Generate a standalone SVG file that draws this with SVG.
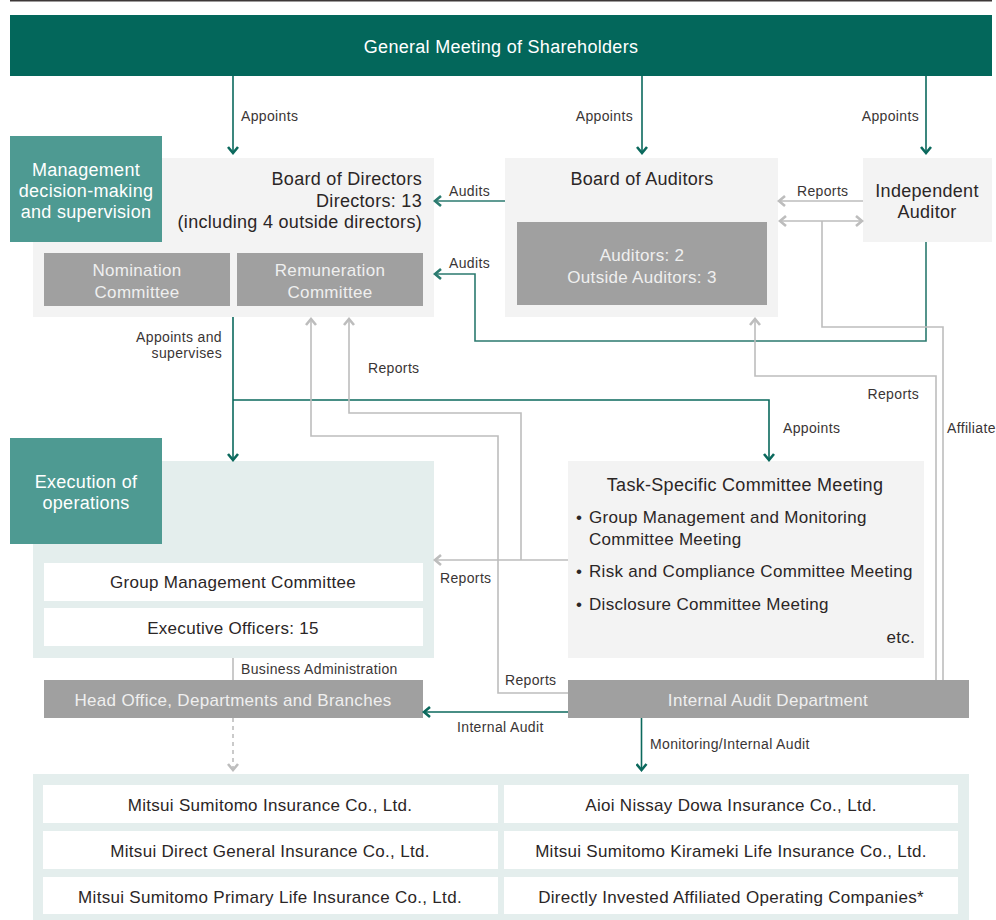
<svg xmlns="http://www.w3.org/2000/svg" width="996" height="920" viewBox="0 0 996 920">
<defs>
<style>
text{font-family:"Liberation Sans",Arial,sans-serif;}
.n{font-size:17px;fill:#2b2626;letter-spacing:0.3px;}
.t{font-size:18px;fill:#2b2626;letter-spacing:0.3px;}
.w{font-size:18px;fill:#ffffff;letter-spacing:0.3px;}
.g{font-size:17px;fill:#efefef;letter-spacing:0.3px;}
.l{font-size:14px;fill:#3a3535;letter-spacing:0.35px;}
.c{text-anchor:middle;}
.e{text-anchor:end;}
.gl{fill:none;stroke:#0b695d;stroke-width:1.6;}
.al{fill:none;stroke:#2b7a6f;stroke-width:1.6;}
.yl{fill:none;stroke:#bdbdbd;stroke-width:1.6;}
</style>
<marker id="ag" viewBox="0 0 12 12" refX="10" refY="6" markerWidth="12" markerHeight="12" markerUnits="userSpaceOnUse" orient="auto">
<path d="M4,1 L10,6 L4,11" fill="none" stroke="#0b695d" stroke-width="2.6"/>
</marker>
<marker id="aa" viewBox="0 0 12 12" refX="10" refY="6" markerWidth="12" markerHeight="12" markerUnits="userSpaceOnUse" orient="auto">
<path d="M4,1 L10,6 L4,11" fill="none" stroke="#2b7a6f" stroke-width="2.6"/>
</marker>
<marker id="ay" viewBox="0 0 12 12" refX="10" refY="6" markerWidth="12" markerHeight="12" markerUnits="userSpaceOnUse" orient="auto-start-reverse">
<path d="M4,1 L10,6 L4,11" fill="none" stroke="#bdbdbd" stroke-width="2.6"/>
</marker>
</defs>
<rect width="996" height="920" fill="#ffffff"/>
<line x1="10" y1="0.75" x2="992" y2="0.75" stroke="#3d3838" stroke-width="1.5"/>

<g id="shareholders">
<rect x="10" y="15" width="982" height="61" fill="#03675b"/>
<text class="w c" x="501" y="53">General Meeting of Shareholders</text>
</g>

<g id="board-of-directors">
<rect x="33" y="158" width="401" height="159" fill="#f3f3f3"/>
<text class="t e" x="422" y="185">Board of Directors</text>
<text class="t e" x="422" y="207">Directors: 13</text>
<text class="t e" x="422" y="228">(including 4 outside directors)</text>
</g>
<g id="management-label">
<rect x="10" y="136" width="152" height="106" fill="#4e9a92"/>
<text class="w c" x="86" y="176">Management</text>
<text class="w c" x="86" y="197">decision-making</text>
<text class="w c" x="86" y="218">and supervision</text>
</g>
<g id="nomination">
<rect x="44" y="253" width="186" height="53" fill="#a0a0a0"/>
<text class="g c" x="137" y="276">Nomination</text>
<text class="g c" x="137" y="298">Committee</text>
</g>
<g id="remuneration">
<rect x="237" y="253" width="186" height="53" fill="#a0a0a0"/>
<text class="g c" x="330" y="276">Remuneration</text>
<text class="g c" x="330" y="298">Committee</text>
</g>

<g id="board-of-auditors">
<rect x="505" y="158" width="273" height="159" fill="#f3f3f3"/>
<text class="t c" x="642" y="185">Board of Auditors</text>
<rect x="517" y="222" width="250" height="83" fill="#a0a0a0"/>
<text class="g c" x="642" y="261">Auditors: 2</text>
<text class="g c" x="642" y="283">Outside Auditors: 3</text>
</g>

<g id="independent-auditor">
<rect x="863" y="158" width="129" height="84" fill="#f3f3f3"/>
<text class="t c" x="927" y="197">Independent</text>
<text class="t c" x="927" y="218">Auditor</text>
</g>

<g id="execution">
<rect x="33" y="461" width="401" height="197" fill="#e4eeed"/>
<rect x="10" y="438" width="152" height="106" fill="#4e9a92"/>
<text class="w c" x="86" y="488">Execution of</text>
<text class="w c" x="86" y="509">operations</text>
</g>
<g id="group-management-committee">
<rect x="44" y="563" width="379" height="38" fill="#ffffff"/>
<text class="n c" x="233" y="588">Group Management Committee</text>
</g>
<g id="executive-officers">
<rect x="44" y="608" width="379" height="38" fill="#ffffff"/>
<text class="n c" x="233" y="634">Executive Officers: 15</text>
</g>

<g id="task-specific">
<rect x="568" y="461" width="356" height="197" fill="#f3f3f3"/>
<text class="t c" x="745" y="491">Task-Specific Committee Meeting</text>
<text class="n" x="576" y="523">•</text>
<text class="n" x="589" y="523">Group Management and Monitoring</text>
<text class="n" x="589" y="545">Committee Meeting</text>
<text class="n" x="576" y="577">•</text>
<text class="n" x="589" y="577">Risk and Compliance Committee Meeting</text>
<text class="n" x="576" y="610">•</text>
<text class="n" x="589" y="610">Disclosure Committee Meeting</text>
<text class="n e" x="915" y="643">etc.</text>
</g>

<g id="head-office">
<rect x="44" y="680" width="379" height="38" fill="#a0a0a0"/>
<text class="g c" x="233" y="706">Head Office, Departments and Branches</text>
</g>
<g id="internal-audit">
<rect x="568" y="680" width="401" height="38" fill="#a0a0a0"/>
<text class="g c" x="768" y="706">Internal Audit Department</text>
</g>

<g id="group-companies">
<rect x="33" y="774" width="936" height="146" fill="#e4eeed"/>
<rect x="43" y="785" width="455" height="38" fill="#ffffff"/>
<rect x="504" y="785" width="454" height="38" fill="#ffffff"/>
<rect x="43" y="831" width="455" height="38" fill="#ffffff"/>
<rect x="504" y="831" width="454" height="38" fill="#ffffff"/>
<rect x="43" y="877" width="455" height="37" fill="#ffffff"/>
<rect x="504" y="877" width="454" height="37" fill="#ffffff"/>
<text class="n c" x="270" y="811">Mitsui Sumitomo Insurance Co., Ltd.</text>
<text class="n c" x="731" y="811">Aioi Nissay Dowa Insurance Co., Ltd.</text>
<text class="n c" x="270" y="857">Mitsui Direct General Insurance Co., Ltd.</text>
<text class="n c" x="731" y="857">Mitsui Sumitomo Kirameki Life Insurance Co., Ltd.</text>
<text class="n c" x="270" y="903">Mitsui Sumitomo Primary Life Insurance Co., Ltd.</text>
<text class="n c" x="731" y="903">Directly Invested Affiliated Operating Companies*</text>
</g>

<g id="connectors">
<path class="gl" d="M233,76 V153" marker-end="url(#ag)"/>
<path class="gl" d="M642,76 V153" marker-end="url(#ag)"/>
<path class="gl" d="M926,76 V153" marker-end="url(#ag)"/>
<path class="al" d="M505,201 H435" marker-end="url(#aa)"/>
<path class="al" d="M926,242 V341 H475 V274 H435" marker-end="url(#aa)"/>
<path class="yl" d="M863,201 H779" marker-end="url(#ay)"/>
<path class="yl" d="M780,221 H862" marker-start="url(#ay)" marker-end="url(#ay)"/>
<path class="yl" d="M822,221 V327 H943 V680"/>
<path class="yl" d="M936,680 V376 H755 V319" marker-end="url(#ay)"/>
<path class="gl" d="M233,317 V460" marker-end="url(#ag)"/>
<path class="gl" d="M233,400 H769 V460" marker-end="url(#ag)"/>
<path class="yl" d="M568,560 H435" marker-end="url(#ay)"/>
<path class="yl" d="M521,560 V413 H349 V319" marker-end="url(#ay)"/>
<path class="yl" d="M568,693 H498 V436 H311 V319" marker-end="url(#ay)"/>
<path class="yl" d="M233,658 V680"/>
<path class="yl" d="M233,718 V770" stroke-dasharray="4 4" marker-end="url(#ay)"/>
<path class="gl" d="M568,712 H424" marker-end="url(#ag)"/>
<path class="gl" d="M641.5,718 V770" marker-end="url(#ag)"/>
</g>

<g id="labels">
<text class="l" x="241" y="121">Appoints</text>
<text class="l e" x="633" y="121">Appoints</text>
<text class="l e" x="919" y="121">Appoints</text>
<text class="l" x="449" y="196">Audits</text>
<text class="l" x="449" y="268">Audits</text>
<text class="l" x="797" y="196">Reports</text>
<text class="l e" x="222" y="342">Appoints and</text>
<text class="l e" x="222" y="358">supervises</text>
<text class="l" x="368" y="373">Reports</text>
<text class="l e" x="919" y="399">Reports</text>
<text class="l" x="783" y="433">Appoints</text>
<text class="l" x="947" y="433">Affiliate</text>
<text class="l" x="440" y="583">Reports</text>
<text class="l" x="241" y="674">Business Administration</text>
<text class="l" x="505" y="685">Reports</text>
<text class="l" x="457" y="732">Internal Audit</text>
<text class="l" x="650" y="749">Monitoring/Internal Audit</text>
</g>
</svg>
